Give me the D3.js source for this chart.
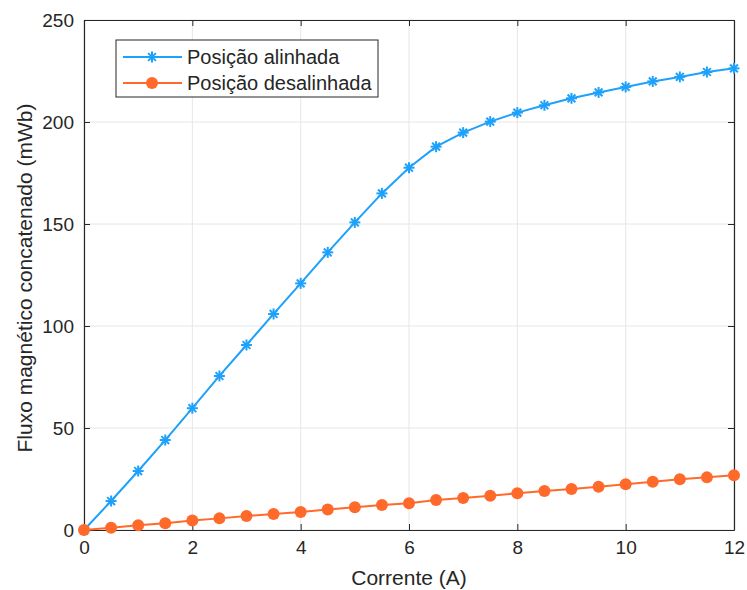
<!DOCTYPE html>
<html>
<head>
<meta charset="utf-8">
<script src="https://cdn.jsdelivr.net/npm/d3@7"></script>
<style>
  body { margin: 0; background: #fff; }
  svg text { font-family: "Liberation Sans", Arial, sans-serif; fill: #262626; }
</style>
</head>
<body>
<div id="chart"></div>
<script>
// current (A)
var corrente = [0, 0.5, 1, 1.5, 2, 2.5, 3, 3.5, 4, 4.5, 5, 5.5, 6, 6.5, 7, 7.5, 8, 8.5, 9, 9.5, 10, 10.5, 11, 11.5, 12];
// flux linkage (mWb)
var alinhada = [0, 14.2, 28.9, 44.1, 59.7, 75.5, 90.7, 105.9, 120.9, 136.1, 150.8, 165.0, 177.6, 187.9, 194.8, 200.2, 204.6, 208.2, 211.6, 214.5, 217.2, 219.9, 222.1, 224.5, 226.3];
var desalinhada = [0, 1.1, 2.3, 3.3, 4.6, 5.7, 6.9, 7.8, 8.8, 10.1, 11.1, 12.3, 13.1, 14.7, 15.7, 16.8, 18.0, 19.1, 20.1, 21.2, 22.4, 23.7, 24.9, 25.8, 26.8];
var xTicks = [0, 2, 4, 6, 8, 10, 12];
var yTicks = [0, 50, 100, 150, 200, 250];
var seriesNames = ["Posição alinhada", "Posição desalinhada"];

var svgWidth = 747, svgHeight = 590;
var margin = { top: 20, right: 13, bottom: 60, left: 84 };
var width = svgWidth - margin.left - margin.right;
var height = svgHeight - margin.top - margin.bottom;

var blue = "#1ea1fb", orange = "#ff6a2b";

var svg = d3.select("#chart").append("svg")
  .attr("width", svgWidth)
  .attr("height", svgHeight);

var g = svg.append("g")
  .attr("transform", "translate(" + margin.left + "," + margin.top + ")");

var xScale = d3.scaleLinear().domain([0, 12]).range([0, width]);
var yScale = d3.scaleLinear().domain([0, 250]).range([height, 0]);

// grid
g.append("g").selectAll("line").data(xTicks).enter().append("line")
  .attr("x1", function (d) { return xScale(d); })
  .attr("x2", function (d) { return xScale(d); })
  .attr("y1", 0).attr("y2", height)
  .attr("stroke", "#e6e6e6").attr("stroke-width", 1);
g.append("g").selectAll("line").data(yTicks).enter().append("line")
  .attr("y1", function (d) { return yScale(d); })
  .attr("y2", function (d) { return yScale(d); })
  .attr("x1", 0).attr("x2", width)
  .attr("stroke", "#e6e6e6").attr("stroke-width", 1);

// axes (ticks inside, mirrored on top/right)
function styleAxis(sel) {
  sel.select(".domain").attr("stroke", "#262626").attr("stroke-width", 1.2);
  sel.selectAll(".tick line").attr("stroke", "#262626");
  sel.selectAll(".tick text").attr("font-size", "19px").attr("fill", "#262626");
}

g.append("g")
  .attr("transform", "translate(0," + height + ")")
  .call(d3.axisBottom(xScale).tickValues(xTicks).tickSizeInner(-6).tickSizeOuter(0).tickPadding(11))
  .call(styleAxis);
g.append("g")
  .call(d3.axisTop(xScale).tickValues(xTicks).tickSizeInner(-6).tickSizeOuter(0).tickFormat(""))
  .call(styleAxis);
g.append("g")
  .call(d3.axisLeft(yScale).tickValues(yTicks).tickSizeInner(-6).tickSizeOuter(0).tickPadding(10))
  .call(styleAxis);
g.append("g")
  .attr("transform", "translate(" + width + ",0)")
  .call(d3.axisRight(yScale).tickValues(yTicks).tickSizeInner(-6).tickSizeOuter(0).tickFormat(""))
  .call(styleAxis);

g.selectAll(".tick text").attr("font-family", "Liberation Sans, Arial, sans-serif");

// lines
var line = d3.line()
  .x(function (d) { return xScale(d[0]); })
  .y(function (d) { return yScale(d[1]); });

var dataA = corrente.map(function (c, i) { return [c, alinhada[i]]; });
var dataD = corrente.map(function (c, i) { return [c, desalinhada[i]]; });

g.append("path").attr("d", line(dataA))
  .attr("fill", "none").attr("stroke", blue).attr("stroke-width", 2);
g.append("path").attr("d", line(dataD))
  .attr("fill", "none").attr("stroke", orange).attr("stroke-width", 2);

// asterisk marker
function star(sel, r) {
  var angles = [0, 45, 90, 135];
  angles.forEach(function (a) {
    var rad = a * Math.PI / 180;
    sel.append("line")
      .attr("x1", -r * Math.cos(rad)).attr("y1", -r * Math.sin(rad))
      .attr("x2", r * Math.cos(rad)).attr("y2", r * Math.sin(rad))
      .attr("stroke", blue).attr("stroke-width", 2);
  });
}

g.append("g").selectAll("g").data(dataA).enter().append("g")
  .attr("transform", function (d) { return "translate(" + xScale(d[0]) + "," + yScale(d[1]) + ")"; })
  .each(function () { star(d3.select(this), 5.5); });

g.append("g").selectAll("circle").data(dataD).enter().append("circle")
  .attr("cx", function (d) { return xScale(d[0]); })
  .attr("cy", function (d) { return yScale(d[1]); })
  .attr("r", 6)
  .attr("fill", orange);

// axis labels
svg.append("text")
  .attr("x", margin.left + width / 2).attr("y", 585)
  .attr("text-anchor", "middle").attr("font-size", "21px")
  .text("Corrente (A)");
svg.append("text")
  .attr("transform", "translate(32," + (margin.top + height / 2 + 3) + ") rotate(-90)")
  .attr("text-anchor", "middle").attr("font-size", "21px")
  .text("Fluxo magnético concatenado (mWb)");

// legend
var legend = svg.append("g").attr("transform", "translate(116,40)");
legend.append("rect")
  .attr("width", 262).attr("height", 57)
  .attr("fill", "#fff").attr("stroke", "#262626").attr("stroke-width", 1);

var rows = legend.selectAll("g.row").data(seriesNames).enter().append("g")
  .attr("class", "row")
  .attr("transform", function (d, i) { return "translate(0," + (17 + i * 26) + ")"; });
rows.append("line")
  .attr("x1", 7).attr("x2", 66).attr("y1", 0).attr("y2", 0)
  .attr("stroke", function (d, i) { return i === 0 ? blue : orange; })
  .attr("stroke-width", 2);
rows.each(function (d, i) {
  var r = d3.select(this);
  if (i === 0) {
    var m = r.append("g").attr("transform", "translate(36,0)");
    star(m, 5.5);
  } else {
    r.append("circle").attr("cx", 36).attr("cy", 0).attr("r", 6).attr("fill", orange);
  }
});
rows.append("text")
  .attr("x", 71).attr("y", 7)
  .attr("font-size", "20px")
  .text(function (d) { return d; });
</script>
</body>
</html>
